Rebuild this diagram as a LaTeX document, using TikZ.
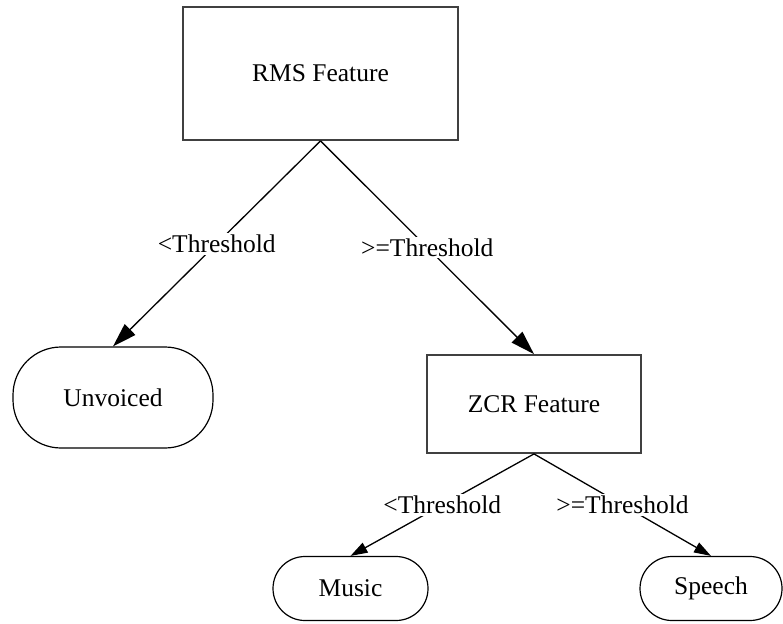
\documentclass[tikz,border=0pt]{standalone}
\usepackage{fontspec}
\setmainfont{Liberation Serif}
\usetikzlibrary{arrows.meta}

\begin{document}
\begin{tikzpicture}[x=1pt, y=-1pt, font=\fontsize{25.5}{30}\selectfont,
  feature/.style={rectangle, draw=black!75, line width=1.8pt},
  leaf/.style={rectangle, draw, line width=1.2pt},
  cond/.style={midway, fill=white, inner sep=2pt},
  bigarrow/.style={-{Triangle[length=24pt, width=15pt]}, line width=1.3pt},
  smallarrow/.style={-{Triangle[length=17pt, width=11pt]}, line width=1.3pt}]
\useasboundingbox (0,0) rectangle (783,623);
\node[feature, minimum width=275pt, minimum height=133pt] (rms) at (320.5,73.5) {RMS Feature};
\node[leaf, rounded corners=48pt, minimum width=200pt, minimum height=101pt] (unvoiced) at (113,397.5) {Unvoiced};
\node[feature, minimum width=214pt, minimum height=98pt] (zcr) at (534,404) {ZCR Feature};
\node[leaf, rounded corners=32pt, minimum width=155pt, minimum height=64pt] (music) at (350.5,588.5) {Music};
\node[leaf, rounded corners=32pt, minimum width=142pt, minimum height=64pt] (speech) at (711,588.5) {Speech};
\draw[bigarrow] (rms.south) -- (unvoiced.north) node[cond] {<Threshold};
\draw[bigarrow] (rms.south) -- (zcr.north) node[cond] {>=Threshold};
\draw[smallarrow] (zcr.south) -- (music.north) node[cond] {<Threshold};
\draw[smallarrow] (zcr.south) -- (speech.north) node[cond] {>=Threshold};
\end{tikzpicture}
\end{document}
